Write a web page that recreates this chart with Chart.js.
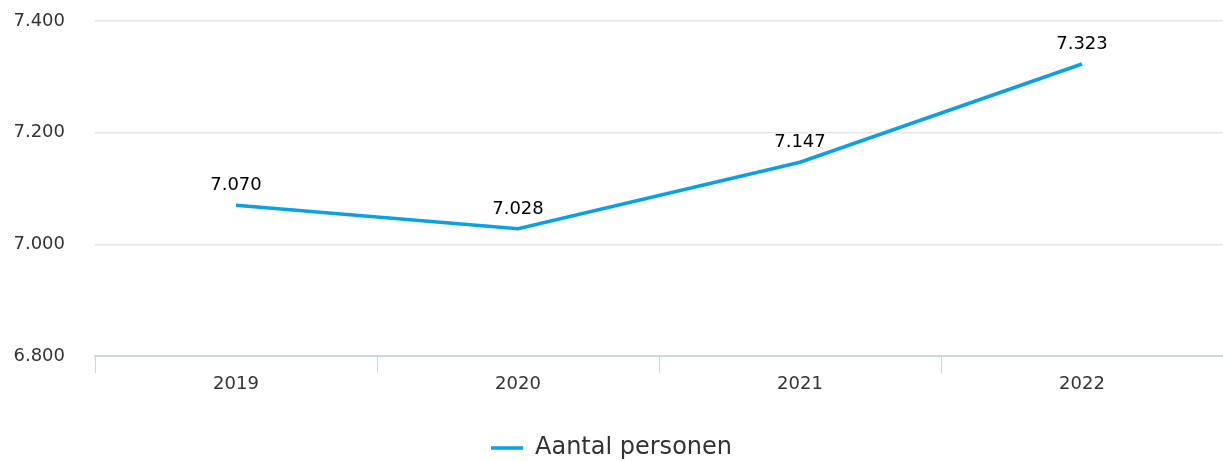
<!DOCTYPE html>
<html>
<head>
<meta charset="utf-8">
<script src="https://cdn.jsdelivr.net/npm/chart.js@4/dist/chart.umd.min.js"></script>
<style>
  html, body { margin: 0; padding: 0; background: #fff; }
  #wrap { width: 1223px; height: 461px; }
</style>
</head>
<body>
<div id="wrap"><canvas id="chart"></canvas></div>
<script>
const years = ["2019", "2020", "2021", "2022"];
const personen = [7070, 7028, 7147, 7323];
const yTicks = [6800, 7000, 7200, 7400];

function fmt(v) {
    return String(v).replace(/\B(?=(\d{3})+(?!\d))/g, ".");
}

// labels above each point
const valueLabels = {
    id: "valueLabels",
    afterDatasetsDraw(chart) {
        const ctx = chart.ctx;
        const meta = chart.getDatasetMeta(0);
        ctx.save();
        ctx.font = "18px 'DejaVu Sans'";
        ctx.fillStyle = "#000";
        ctx.textAlign = "center";
        ctx.textBaseline = "alphabetic";
        meta.data.forEach((pt, i) => {
            ctx.fillText(fmt(personen[i]), pt.x, pt.y - 15);
        });
        ctx.restore();
    }
};

new Chart(document.getElementById("chart"), {
    type: "line",
    data: {
        labels: years,
        datasets: [{
            label: "Aantal personen",
            data: personen,
            borderColor: "#0aa1e2",
            backgroundColor: "#0aa1e2",
            borderWidth: 3.5,
            pointRadius: 0,
            tension: 0
        }]
    },
    options: {
        responsive: true,
        maintainAspectRatio: false,
        animation: false,
        layout: { padding: { top: 21, left: 0, right: 0, bottom: -9 } },
        scales: {
            x: {
                offset: true,
                afterFit(axis) { axis.height = 80; },
                grid: {
                    offset: true,
                    drawOnChartArea: false,
                    color: "#ccd6eb",
                    tickLength: 17,
                    lineWidth: 1
                },
                border: { color: "#ccd6eb", width: 2 },
                ticks: {
                    color: "#333",
                    font: { family: "DejaVu Sans", size: 18 },
                    padding: 1
                }
            },
            y: {
                min: 6800,
                max: 7400,
                afterBuildTicks(axis) {
                    axis.ticks = yTicks.map(v => ({ value: v }));
                },
                afterFit(axis) { axis.width = 95; },
                grid: {
                    color: "#e6e6e6",
                    lineWidth: 1.5,
                    drawTicks: true,
                    tickLength: 30,
                    tickColor: "rgba(0,0,0,0)"
                },
                border: { display: false },
                ticks: {
                    color: "#333",
                    font: { family: "DejaVu Sans", size: 18 },
                    padding: 0,
                    callback: v => fmt(v)
                }
            }
        },
        plugins: {
            legend: {
                position: "bottom",
                labels: {
                    usePointStyle: true,
                    pointStyle: "line",
                    pointStyleWidth: 32,
                    boxHeight: 3,
                    color: "#333",
                    font: { family: "DejaVu Sans", size: 24 },
                    padding: 0
                }
            },
            tooltip: { enabled: false }
        }
    },
    plugins: [valueLabels]
});
</script>
</body>
</html>
